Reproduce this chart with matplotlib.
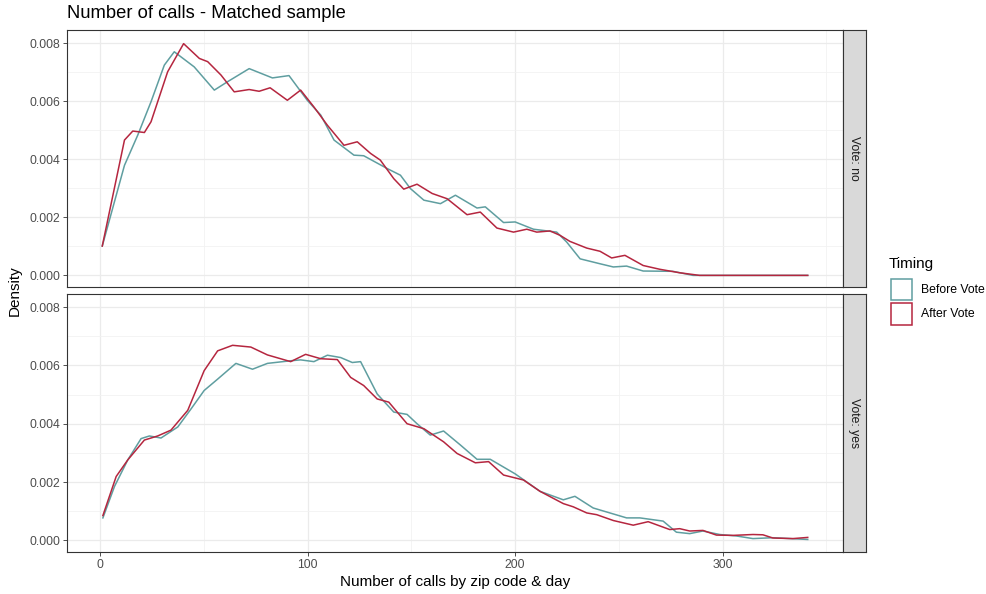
import numpy as np
import matplotlib.pyplot as plt
from matplotlib.patches import Rectangle

plt.rcParams["font.family"] = ["Liberation Sans", "DejaVu Sans"]

# --- Datos (x = llamadas, y = densidad * 1000) ---
# Vote: no
no_before_x = [1, 11.7, 18.1, 24.5, 30.9, 35.7, 45.3, 55, 61.4, 71.8, 83, 91, 99.8, 106.3, 112.7,
               122.3, 127, 138.3, 144.7, 149.5, 156, 164, 171.2, 181.6, 185.6, 194.4, 200, 208.8,
               220, 224.8, 231.3, 240.9, 247.3, 253.7, 261.7, 276, 285.7, 341]
no_before_y = [1.01, 3.79, 4.83, 5.98, 7.24, 7.70, 7.18, 6.38, 6.67, 7.12, 6.80, 6.88, 6.03, 5.52, 4.66,
               4.14, 4.12, 3.68, 3.45, 2.99, 2.59, 2.47, 2.76, 2.32, 2.36, 1.82, 1.84, 1.59,
               1.49, 1.15, 0.57, 0.40, 0.29, 0.32, 0.15, 0.14, 0.0, 0.0]
no_after_x = [1, 11.7, 15.7, 21.3, 24.5, 32.5, 40.2, 47.8, 51.8, 58.2, 64.6, 71.8, 76.6, 81.9, 90.2,
              96.6, 103, 109.5, 117.5, 123.9, 130.3, 135, 141.5, 146.3, 152.7, 160, 167.2, 176.8,
              183.2, 191.2, 199.2, 205.6, 210.4, 216.8, 221.6, 226.4, 234.5, 240.9, 246.5, 252.9,
              261.7, 269.7, 279.3, 288.9, 341]
no_after_y = [1.01, 4.66, 4.97, 4.92, 5.29, 7.01, 7.98, 7.47, 7.36, 6.90, 6.32, 6.40, 6.34, 6.46, 6.03,
              6.38, 5.80, 5.17, 4.48, 4.60, 4.20, 3.97, 3.33, 2.97, 3.14, 2.82, 2.64, 2.09,
              2.18, 1.63, 1.49, 1.59, 1.49, 1.53, 1.38, 1.17, 0.94, 0.83, 0.60, 0.69,
              0.34, 0.21, 0.09, 0.0, 0.0]
# Vote: yes
yes_before_x = [1.3, 6.9, 13.3, 19.7, 23.7, 29.3, 37.4, 43.8, 50.1, 56.6, 65.4, 73.4, 80.6, 91.8,
                96.6, 103, 109.5, 115.9, 121.5, 125.5, 133.5, 141.5, 147.9, 152.7, 159.1, 165.5,
                173.6, 181.6, 188, 200, 212, 223.2, 228.8, 237.6, 253.7, 260.1, 271.3, 277.7,
                284.1, 290.5, 298.6, 306.6, 314.6, 324.2, 341]
yes_before_y = [0.77, 1.85, 2.76, 3.49, 3.58, 3.51, 3.89, 4.51, 5.14, 5.53, 6.07, 5.87, 6.07, 6.16,
                6.19, 6.13, 6.35, 6.27, 6.10, 6.13, 5.02, 4.40, 4.32, 4.00, 3.61, 3.75,
                3.27, 2.78, 2.78, 2.28, 1.68, 1.39, 1.51, 1.11, 0.77, 0.77, 0.66, 0.28,
                0.23, 0.32, 0.20, 0.15, 0.06, 0.09, 0.03]
yes_after_x = [1.3, 7.7, 13.3, 21.3, 27.7, 34.1, 42.2, 50.1, 56.6, 63.8, 72.6, 80.6, 91.8, 99,
               106.3, 114.3, 120.7, 127, 133.5, 139.1, 147.9, 156, 165.5, 172, 180.8, 187.2,
               194.4, 204, 212, 223.2, 228, 234.5, 239.3, 247.3, 256.9, 264.1, 274.5, 279.3,
               284.1, 290.5, 297, 305, 314.6, 319.4, 324.2, 333.8, 341]
yes_after_y = [0.85, 2.19, 2.76, 3.44, 3.58, 3.78, 4.46, 5.82, 6.50, 6.69, 6.63, 6.36, 6.13, 6.38,
               6.23, 6.20, 5.59, 5.31, 4.85, 4.74, 4.00, 3.83, 3.38, 2.98, 2.66, 2.70,
               2.24, 2.07, 1.68, 1.26, 1.15, 0.94, 0.88, 0.68, 0.52, 0.64, 0.37, 0.40,
               0.32, 0.34, 0.18, 0.17, 0.20, 0.19, 0.08, 0.06, 0.10]

panels = ["Vote: no", "Vote: yes"]
timing = ["Before Vote", "After Vote"]
colors = ["#5F9EA0", "#B5263F"]

W, H = 987, 594
fig = plt.figure(figsize=(W / 100, H / 100), dpi=100)


def box(x0, y0, x1, y1):
    """Rectangulo en pixeles (origen arriba a la izquierda) -> coords de figura."""
    return [x0 / W, 1 - y1 / H, (x1 - x0) / W, (y1 - y0) / H]


series = [[(no_before_x, no_before_y), (no_after_x, no_after_y)],
          [(yes_before_x, yes_before_y), (yes_after_x, yes_after_y)]]
rows = [(30, 287), (294, 552)]

axes = []
for i, pares in enumerate(series):
    y0, y1 = rows[i]
    ax = fig.add_axes(box(67, y0, 843, y1))
    axes.append(ax)
    for (xs, ys), c, lab in zip(pares, colors, timing):
        ax.plot(xs, np.array(ys) / 1000, color=c, lw=1.1, label=lab)
    ax.set_xlim(-16, 358)
    ax.set_ylim(-0.0004, 0.00845)
    ax.set_xticks([0, 100, 200, 300])
    ax.set_xticks([50, 150, 250, 350], minor=True)
    ax.set_yticks([0, 0.002, 0.004, 0.006, 0.008])
    ax.set_yticks([0.001, 0.003, 0.005, 0.007], minor=True)
    ax.set_yticklabels(["0.000", "0.002", "0.004", "0.006", "0.008"])
    ax.grid(which="major", color="#EBEBEB", lw=0.9)
    ax.grid(which="minor", color="#F2F2F2", lw=0.6)
    ax.set_axisbelow(True)
    ax.tick_params(which="major", length=3, width=0.6, color="#333333",
                   labelsize=8.8, labelcolor="#4D4D4D", pad=2)
    ax.tick_params(which="minor", length=0)
    for s in ax.spines.values():
        s.set_color("#333333")
        s.set_linewidth(0.8)
    if i == 0:
        ax.tick_params(axis="x", which="both", length=0, labelbottom=False)

    # tira del facet
    st = fig.add_axes(box(843, y0, 866, y1))
    st.set_facecolor("#D9D9D9")
    st.set_xticks([]); st.set_yticks([])
    for s in st.spines.values():
        s.set_color("#333333")
        s.set_linewidth(0.8)
    st.text(0.5, 0.5, panels[i], rotation=-90, ha="center", va="center",
            fontsize=8.8, color="#1A1A1A", transform=st.transAxes)

axes[1].set_xlabel("Number of calls by zip code & day", fontsize=11, labelpad=3)
fig.text(15 / W, 1 - 291 / H, "Density", rotation=90, ha="center", va="center", fontsize=11)
fig.text(67 / W, 1 - 13 / H, "Number of calls - Matched sample", ha="left", va="center", fontsize=13.2)

# leyenda estilo ggplot: cuadros con borde de color
fig.text(889 / W, 1 - 264 / H, "Timing", ha="left", va="center", fontsize=11)
for k, (c, lab) in enumerate(zip(colors, timing)):
    top = 278.5 + 24 * k
    fig.patches.append(Rectangle((891 / W, 1 - (top + 22) / H), 21.5 / W, 22 / H,
                                 transform=fig.transFigure, facecolor="white",
                                 edgecolor=c, lw=1.1))
    fig.text(921 / W, 1 - (top + 11.5) / H, lab, ha="left", va="center", fontsize=8.8)

fig.savefig("out.png", dpi=100)
